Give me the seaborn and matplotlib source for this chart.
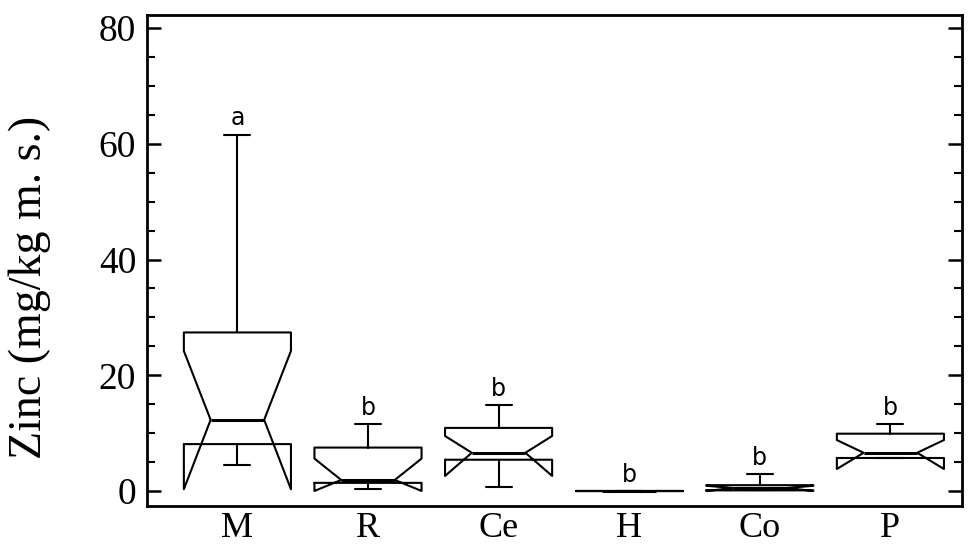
import matplotlib
matplotlib.use("Agg")
import matplotlib.pyplot as plt
from matplotlib.ticker import MultipleLocator
import seaborn as sns
import numpy as np

sns.set_theme(style="ticks")
plt.rcParams['font.family'] = ['Liberation Serif', 'DejaVu Serif']
plt.rcParams['text.color'] = 'black'
plt.rcParams['axes.labelcolor'] = 'black'
plt.rcParams['xtick.color'] = 'black'
plt.rcParams['ytick.color'] = 'black'

# values (mg/kg m. s.)
groups = ["M", "R", "Ce", "H", "Co", "P"]
whisker_lo = [4.5, 0.3, 0.7, 0.05, 0.1, 5.7]
q1 = [8.1, 1.4, 5.4, 0.05, 0.1, 5.7]
median = [12.3, 1.9, 6.6, 0.05, 0.5, 6.6]
q3 = [27.4, 7.5, 10.9, 0.05, 1.0, 9.9]
whisker_hi = [61.6, 11.6, 14.9, 0.05, 2.9, 11.6]
notch_lo = [0.3, 0.0, 2.6, 0.05, 0.0, 3.8]
notch_hi = [24.2, 5.6, 9.5, 0.05, 0.9, 8.8]
letters = ["a", "b", "b", "b", "b", "b"]

stats = []
for i, g in enumerate(groups):
    stats.append({"label": g, "whislo": whisker_lo[i], "q1": q1[i], "med": median[i],
                  "q3": q3[i], "whishi": whisker_hi[i], "cilo": notch_lo[i],
                  "cihi": notch_hi[i], "fliers": []})

fig, ax = plt.subplots(figsize=(9.69, 5.5), dpi=100)
fig.subplots_adjust(left=0.152, right=0.993, top=0.973, bottom=0.08)

pos = np.arange(len(groups))
line = {"color": "black", "linewidth": 1.5}
ax.bxp(stats, positions=pos, widths=0.82, capwidths=0.2, shownotches=True,
       showfliers=False, boxprops=line, whiskerprops=line, capprops=line,
       medianprops={"color": "black", "linewidth": 2.2})

for i, txt in enumerate(letters):
    ax.annotate(txt, (pos[i], whisker_hi[i]), xytext=(0, 3), textcoords="offset points",
                ha="center", va="bottom", fontsize=17, family=["DejaVu Sans"])

ax.set_xlim(-0.69, 5.55)
ax.set_ylim(-2.6, 82.3)
ax.yaxis.set_major_locator(MultipleLocator(20))
ax.yaxis.set_minor_locator(MultipleLocator(5))
ax.tick_params(axis="y", which="major", direction="in", length=10, width=1.8,
               labelsize=27, right=True, left=True, pad=8)
ax.tick_params(axis="y", which="minor", direction="in", length=6, width=1.5,
               right=True, left=True)
ax.tick_params(axis="x", length=0, labelsize=26, pad=4)
ax.set_xticks(pos)
ax.set_xticklabels(groups)
ax.set_ylabel("Zinc (mg/kg m. s.)", fontsize=33)
ax.yaxis.set_label_coords(-0.118, 0.445)
for s in ax.spines.values():
    s.set_linewidth(2)
    s.set_color("black")

fig.savefig("out.png", dpi=100)
